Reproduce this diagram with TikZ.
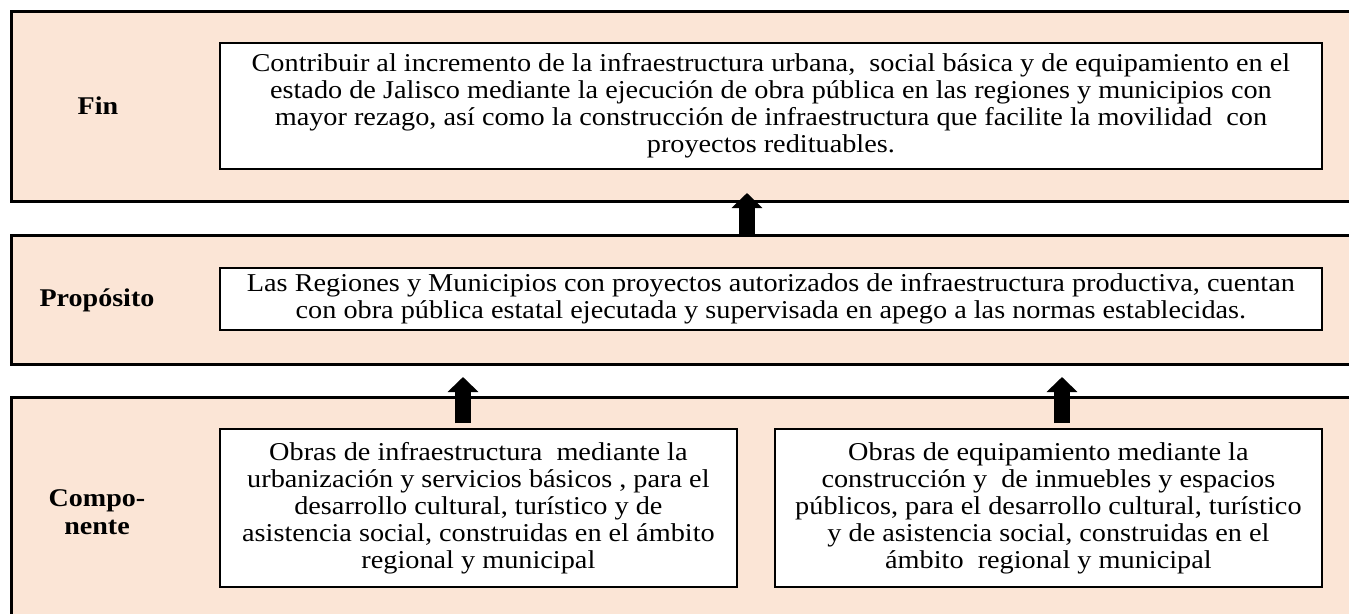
\documentclass[tikz,border=0pt]{standalone}
\usepackage{fontspec}
\setmainfont{Liberation Serif}
\newfontfamily\wideserif[FakeStretch=1.1]{Liberation Serif}
\usetikzlibrary{arrows.meta}
\definecolor{MirPeach}{HTML}{FBE5D6}

\begin{document}
\begin{tikzpicture}[x=1pt,y=-1pt,
        band/.style={draw=black,line width=3pt,fill=MirPeach,anchor=north west,minimum width=1400pt,inner sep=0pt},
        textbox/.style={draw=black,line width=1.8pt,fill=white,align=center,inner sep=0pt,anchor=north west,
          font=\wideserif\fontsize{25.7}{27}\selectfont},
        level/.style={font=\wideserif\fontsize{25.5}{28}\selectfont\bfseries,align=center},
        uparr/.style={line width=16pt,-{Triangle[width=30pt,length=15pt]}}
      ]
        \clip (0,0) rectangle (1349,613);
        % the three levels
        \node[band,minimum height=190pt] (finband) at (10,10) {};
        \node[band,minimum height=129pt] (propband) at (10,234) {};
        \node[band,minimum height=240pt] (compband) at (10,396) {};
        \node[level] (fin) at (98,106) {Fin};
        \node[level] (prop) at (97,300) {Propósito};
        \node[level] (comp) at (97,512) {Compo-\\nente};
        % boxes
        \node[textbox,minimum width=1102pt,minimum height=126pt] (finbox) at (219,42)
          {Contribuir al incremento de la infraestructura urbana,\ \ social básica y de equipamiento en el\\
           estado de Jalisco mediante la ejecución de obra pública en las regiones y municipios con\\
           mayor rezago, así como la construcción de infraestructura que facilite la movilidad\ \ con\\
           proyectos redituables.};
        \node[textbox,minimum width=1102pt,minimum height=62pt] (propbox) at (219,267)
          {Las Regiones y Municipios con proyectos autorizados de infraestructura productiva, cuentan\\
           con obra pública estatal ejecutada y supervisada en apego a las normas establecidas.};
        \node[textbox,minimum width=517pt,minimum height=158pt] (compl) at (219,428)
          {Obras de infraestructura\ \ mediante la\\
           urbanización y servicios básicos , para el\\
           desarrollo cultural, turístico y de\\
           asistencia social, construidas en el ámbito\\
           regional y municipal};
        \node[textbox,minimum width=547pt,minimum height=158pt] (compr) at (774,428)
          {Obras de equipamiento mediante la\\
           construcción y\ \ de inmuebles y espacios\\
           públicos, para el desarrollo cultural, turístico\\
           y de asistencia social, construidas en el\\
           ámbito\ \ regional y municipal};
        % arrows
        \coordinate (tipfin) at (747,193);
        \coordinate (tipl) at (463,377);
        \coordinate (tipr) at (1062,377);
        \draw[uparr,shorten <=-3pt] (propband.north -| tipfin) -- (tipfin);
        \draw[uparr,shorten <=5pt] (compl.north -| tipl) -- (tipl);
        \draw[uparr,shorten <=5pt] (compr.north -| tipr) -- (tipr);
      \end{tikzpicture}
\end{document}
